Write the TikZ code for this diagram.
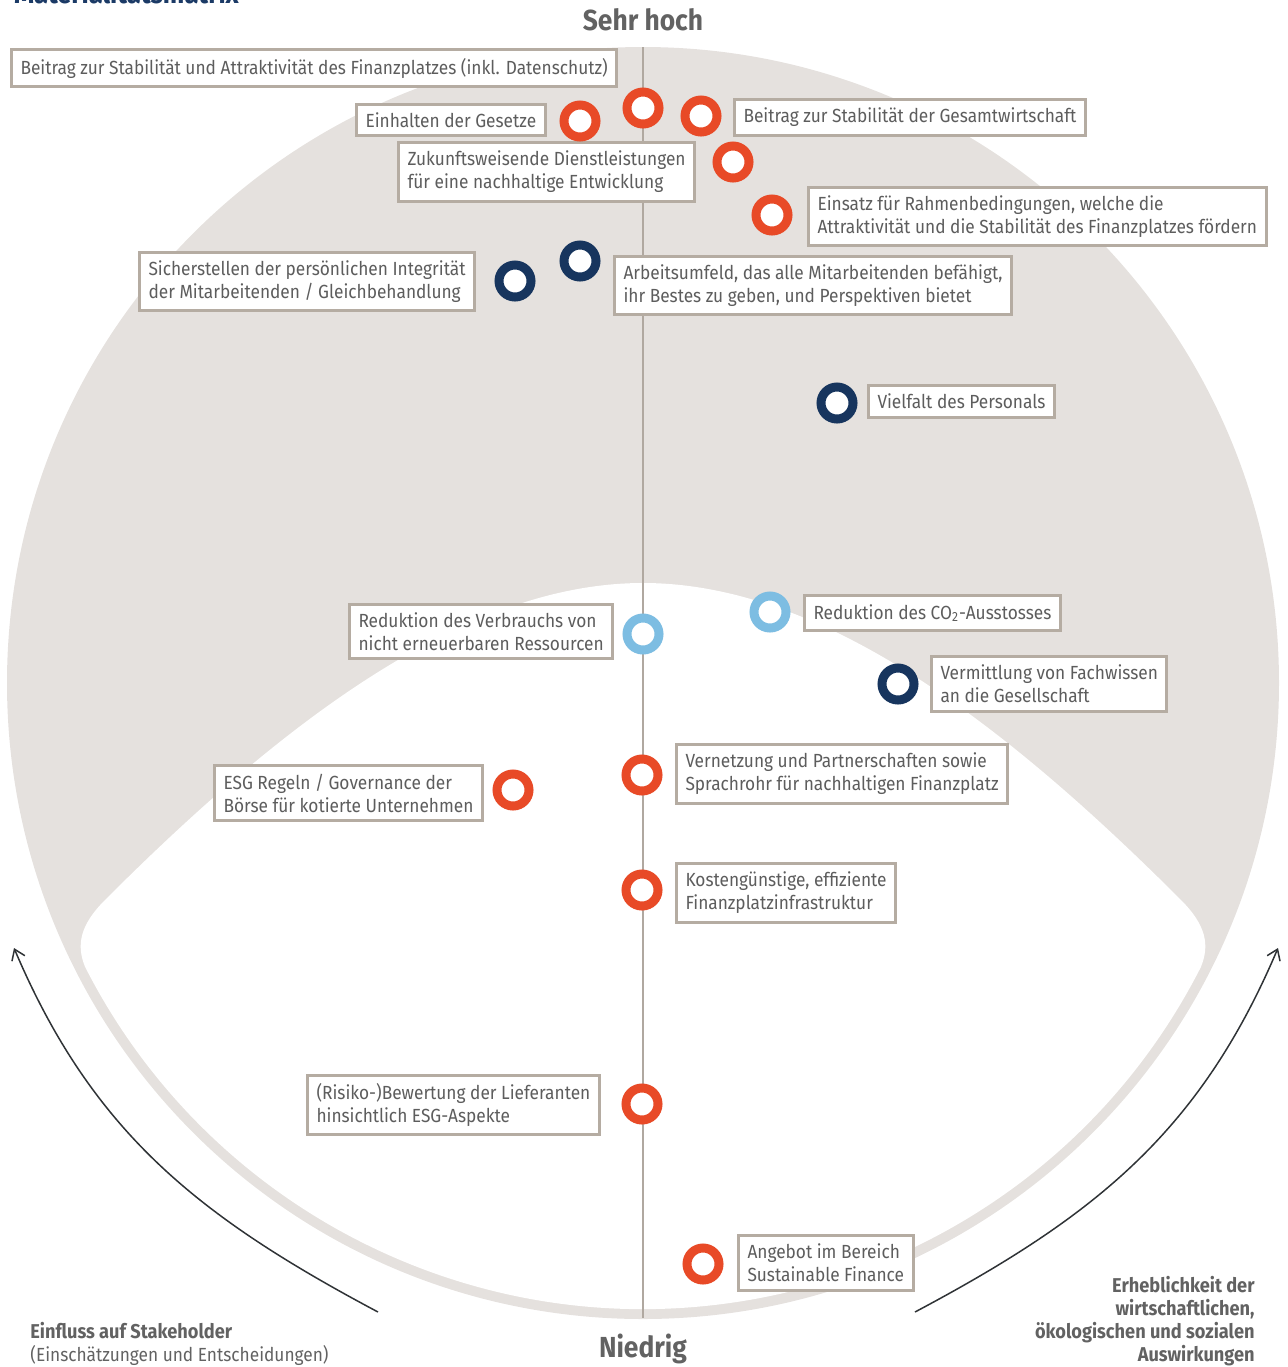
\documentclass[tikz,border=0pt]{standalone}
\usepackage{fontspec}
\setmainfont{Fira Sans}[FakeStretch=0.91]
\usepackage{tikz}
\usetikzlibrary{
  arrows.meta,
  positioning,
}
\definecolor{areagray}{HTML}{E5E1DE}
\definecolor{boxgray}{HTML}{B5ACA2}
\definecolor{axisgray}{HTML}{B0A8A0}
\definecolor{txtgray}{HTML}{5D5D5D}
\definecolor{headgray}{HTML}{626262}
\definecolor{mred}{HTML}{E84A27}
\definecolor{mnavy}{HTML}{17355E}
\definecolor{mblue}{HTML}{7DBDE2}
\definecolor{arrowdark}{HTML}{2F3336}
\definecolor{titleblue}{HTML}{1B3A66}
\tikzset{
  >={Straight Barb[length=5pt,width=7pt]},
  lbl/.style={draw=boxgray, line width=1.5pt, fill=white, anchor=west,
    align=left, text=txtgray, inner xsep=4.5pt, inner ysep=4.2pt,
    font=\fontsize{9.5pt}{11.5pt}\selectfont},
  ring/.style={circle, draw=#1, line width=4.5pt, fill=white,
    minimum size=16pt, inner sep=0pt},
  head/.style={text=headgray, font=\fontsize{14.5pt}{16pt}\selectfont\bfseries},
  side/.style={text=headgray, inner sep=0pt, font=\fontsize{9.5pt}{11.5pt}\selectfont},
  arr/.style={->, draw=arrowdark, line width=0.75pt},
}

\begin{document}
\begin{tikzpicture}[x=0.5pt, y=-0.5pt]
  \useasboundingbox (0,0) rectangle (1287,1367);
  \clip (0,0) rectangle (1287,1367);

  \node [anchor=base west, text=titleblue, font=\fontsize{14pt}{16pt}\selectfont\bfseries] (titel) at (7,3) {Materialitätsmatrix};

  \fill [areagray] (643,683) circle [radius=636];
  \fill [white] (85.2,967.2) .. controls (76,945) and (80,925) .. (105,900)
    .. controls (275,730) and (460,583) .. (643,583)
    .. controls (826,583) and (1011,730) .. (1181,900)
    .. controls (1206,925) and (1210,945) .. (1200.8,967.2)
    arc [start angle=27, end angle=153, radius=626] -- cycle;

  \coordinate (oben) at (643,47);
  \coordinate (unten) at (643,1318);
  \draw [axisgray, line width=1pt] (oben) -- (unten);

  \node [head] (hoch) at (643,20) {Sehr hoch};
  \node [head] (niedrig) at (643,1349) {Niedrig};

  \node [lbl] (datenschutz) at (10,68) {Beitrag zur Stabilität und Attraktivität des Finanzplatzes (inkl. Datenschutz)};
  \node [lbl] (gesetze) at (355,120) {Einhalten der Gesetze};
  \node [lbl] (gesamt) at (733,117.5) {Beitrag zur Stabilität der Gesamtwirtschaft};
  \node [lbl] (zukunft) at (397,172) {Zukunftsweisende Dienstleistungen\\für eine nachhaltige Entwicklung};
  \node [lbl] (rahmen) at (807,216.5) {Einsatz für Rahmenbedingungen, welche die\\Attraktivität und die Stabilität des Finanzplatzes fördern};
  \node [lbl] (integritaet) at (138,281.5) {Sicherstellen der persönlichen Integrität\\der Mitarbeitenden / Gleichbehandlung};
  \node [lbl] (umfeld) at (613,285.5) {Arbeitsumfeld, das alle Mitarbeitenden befähigt,\\ihr Bestes zu geben, und Perspektiven bietet};
  \node [lbl] (vielfalt) at (867,401.5) {Vielfalt des Personals};
  \node [lbl] (ressourcen) at (348,631.5) {Reduktion des Verbrauchs von\\nicht erneuerbaren Ressourcen};
  \node [lbl] (co2) at (803,613) {Reduktion des CO\textsubscript{2}-Ausstosses};
  \node [lbl] (fachwissen) at (930,684) {Vermittlung von Fachwissen\\an die Gesellschaft};
  \node [lbl] (vernetzung) at (675,774) {Vernetzung und Partnerschaften sowie\\Sprachrohr für nachhaltigen Finanzplatz};
  \node [lbl] (esg) at (213,793) {ESG Regeln / Governance der\\Börse für kotierte Unternehmen};
  \node [lbl] (kosten) at (675,893) {Kostengünstige, effiziente\\Finanzplatzinfrastruktur};
  \node [lbl] (lieferanten) at (306,1105) {(Risiko-)Bewertung der Lieferanten\\hinsichtlich ESG-Aspekte};
  \node [lbl] (angebot) at (737,1263) {Angebot im Bereich\\Sustainable Finance};

  \node [ring=mred] (mgesetze) at (580,121) {};
  \node [ring=mred] (mdatenschutz) at (643,108) {};
  \node [ring=mred] (mgesamt) at (701,116) {};
  \node [ring=mred] (mzukunft) at (733,162) {};
  \node [ring=mred] (mrahmen) at (772,215) {};
  \node [ring=mnavy] (mumfeld) at (580,261) {};
  \node [ring=mnavy] (mintegritaet) at (515,281) {};
  \node [ring=mnavy] (mvielfalt) at (837,403) {};
  \node [ring=mblue] (mressourcen) at (643,634) {};
  \node [ring=mblue] (mco2) at (770,612) {};
  \node [ring=mnavy] (mfachwissen) at (898,684) {};
  \node [ring=mred] (mvernetzung) at (642,775) {};
  \node [ring=mred] (mesg) at (513,790) {};
  \node [ring=mred] (mkosten) at (642,890) {};
  \node [ring=mred] (mlieferanten) at (642,1104) {};
  \node [ring=mred] (mangebot) at (703,1264) {};

  \coordinate (einS) at (378,1312);
  \coordinate (einE) at (14,948);
  \draw [arr] (einS) to [out=152, in=293] (einE);
  \coordinate (ausS) at (915,1312);
  \coordinate (ausE) at (1278,948);
  \draw [arr] (ausS) to [out=28, in=247] (ausE);

  \node [side, anchor=north west, align=left] (einfluss) at (30,1322) {{\fontsize{10pt}{11.5pt}\selectfont\bfseries Einfluss auf Stakeholder}\\(Einschätzungen und Entscheidungen)};
  \node [side, anchor=north east, align=right, font=\fontsize{10pt}{11.5pt}\selectfont\bfseries] (erheblich) at (1255,1276) {Erheblichkeit der\\wirtschaftlichen,\\ökologischen und sozialen\\Auswirkungen};
\end{tikzpicture}
\end{document}
